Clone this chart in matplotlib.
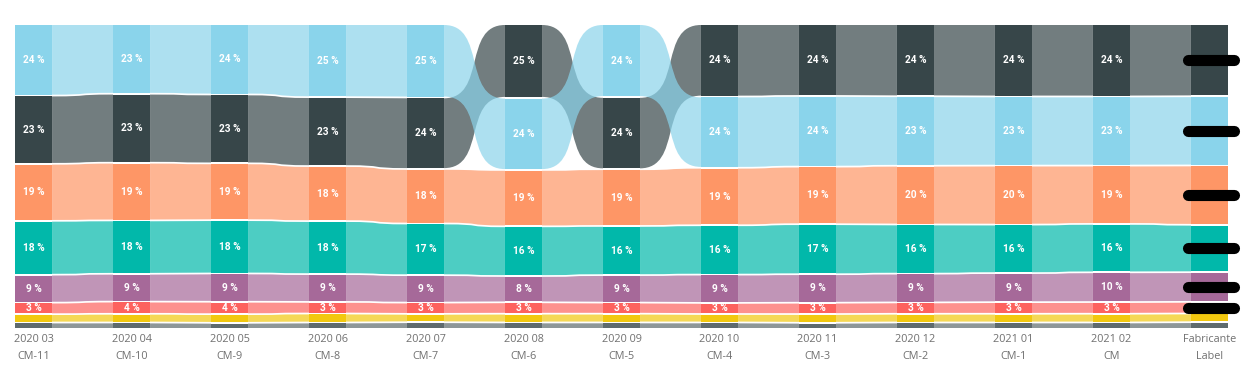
import matplotlib.pyplot as plt
from matplotlib.path import Path
from matplotlib.patches import PathPatch
import numpy as np

# categorias do eixo x
months = ['2020 03', '2020 04', '2020 05', '2020 06', '2020 07', '2020 08',
          '2020 09', '2020 10', '2020 11', '2020 12', '2021 01', '2021 02', 'Fabricante']
periods = ['CM-11', 'CM-10', 'CM-9', 'CM-8', 'CM-7', 'CM-6',
           'CM-5', 'CM-4', 'CM-3', 'CM-2', 'CM-1', 'CM', 'Label']

# quota (%) por serie
light_blue = [24.2, 23.4, 23.8, 24.6, 24.8, 24.1, 24.3, 23.8, 23.7, 23.3, 23.2, 23.1, 23.2]
dark_gray = [23.1, 23.2, 23.3, 23.2, 24.2, 24.6, 24.1, 24.2, 24.1, 24.2, 24.3, 24.2, 24.2]
orange = [19.2, 19.3, 19.1, 18.4, 18.3, 18.7, 18.8, 19.1, 19.2, 19.6, 19.7, 19.4, 19.8]
teal = [18.1, 17.8, 17.9, 17.7, 17.3, 16.4, 16.2, 16.3, 16.6, 16.3, 16.1, 16.0, 15.7]
purple = [9.1, 9.0, 9.2, 9.0, 8.9, 8.4, 8.8, 9.1, 9.2, 9.3, 9.4, 9.6, 9.6]
red = [3.4, 3.6, 3.7, 3.4, 3.3, 3.3, 3.2, 3.2, 3.3, 3.3, 3.4, 3.4, 3.4]
yellow = [2.3, 2.4, 2.4, 2.5, 2.3, 2.4, 2.4, 2.3, 2.4, 2.4, 2.4, 2.4, 2.4]
gray = [1.6, 1.6, 1.5, 1.6, 1.7, 1.6, 1.6, 1.6, 1.5, 1.6, 1.6, 1.6, 1.7]

series = [
    ('dark', dark_gray, '#374649', True),
    ('light', light_blue, '#8AD4EB', True),
    ('orange', orange, '#FE9666', True),
    ('teal', teal, '#01B8AA', True),
    ('purple', purple, '#A66999', True),
    ('red', red, '#FD625E', True),
    ('yellow', yellow, '#F2C80F', False),
    ('gray', gray, '#5F6B6D', False),
]

n_cat = len(months)
bar_w = 0.378
gap = 0.6
k = 0.7  # quanto a curva da fita "estica"

vals = np.array([s[1] for s in series], dtype=float)
vals = vals / vals.sum(axis=0) * 100  # quota normalizada

# posicoes empilhadas: maior em cima
bottoms = np.zeros_like(vals)
tops = np.zeros_like(vals)
for j in range(n_cat):
    order = np.argsort(vals[:, j])  # menor primeiro (embaixo)
    y = 0.0
    for idx in order:
        bottoms[idx, j] = y
        tops[idx, j] = y + vals[idx, j]
        y = tops[idx, j] + gap

fig = plt.figure(figsize=(12.52, 3.74), dpi=100)
ax = fig.add_axes([15 / 1252, 46 / 374, 1213 / 1252, 303 / 374])
x = np.arange(n_cat)

# fitas entre colunas
for i, (name, _, color, _) in enumerate(series):
    for j in range(n_cat - 1):
        xa = x[j] + bar_w / 2
        xb = x[j + 1] - bar_w / 2
        c1 = xa + k * (xb - xa)
        c2 = xb - k * (xb - xa)
        ta, tb = tops[i, j], tops[i, j + 1]
        ba, bb = bottoms[i, j], bottoms[i, j + 1]
        verts = [(xa, ta), (c1, ta), (c2, tb), (xb, tb),
                 (xb, bb), (c2, bb), (c1, ba), (xa, ba), (xa, ta)]
        codes = [Path.MOVETO, Path.CURVE4, Path.CURVE4, Path.CURVE4,
                 Path.LINETO, Path.CURVE4, Path.CURVE4, Path.CURVE4, Path.CLOSEPOLY]
        ax.add_patch(PathPatch(Path(verts, codes), facecolor=color, alpha=0.7,
                               lw=0, zorder=1 + i * 0.1))

# barras
for i, (name, _, color, show) in enumerate(series):
    ax.bar(x, tops[i] - bottoms[i], bottom=bottoms[i], width=bar_w,
           color=color, lw=0, zorder=3)
    if not show:
        continue
    for j in range(n_cat):
        yc = (tops[i, j] + bottoms[i, j]) / 2
        if j == n_cat - 1:
            # rotulos tapados no original
            ax.plot([x[j] - 0.22, x[j] + 0.25], [yc, yc], color='black', lw=8,
                    solid_capstyle='round', clip_on=False, zorder=5)
            continue
        ax.text(x[j], yc, f'{round(vals[i, j]):.0f} %', ha='center', va='center',
                color='white', fontsize=7.3, fontweight='bold', family='Roboto',
                zorder=4)

ax.set_xlim(-bar_w / 2, n_cat - 1 + bar_w / 2)
ax.set_ylim(0, 100 + gap * (len(series) - 1))
ax.set_xticks(x)
ax.set_xticklabels([f'{m}\n{p}' for m, p in zip(months, periods)],
                   fontsize=7.8, color='#707070', family='Open Sans', linespacing=1.75)
ax.tick_params(axis='x', length=0, pad=4)
ax.set_yticks([])
for s in ax.spines.values():
    s.set_visible(False)

fig.savefig('out.png', dpi=100)
